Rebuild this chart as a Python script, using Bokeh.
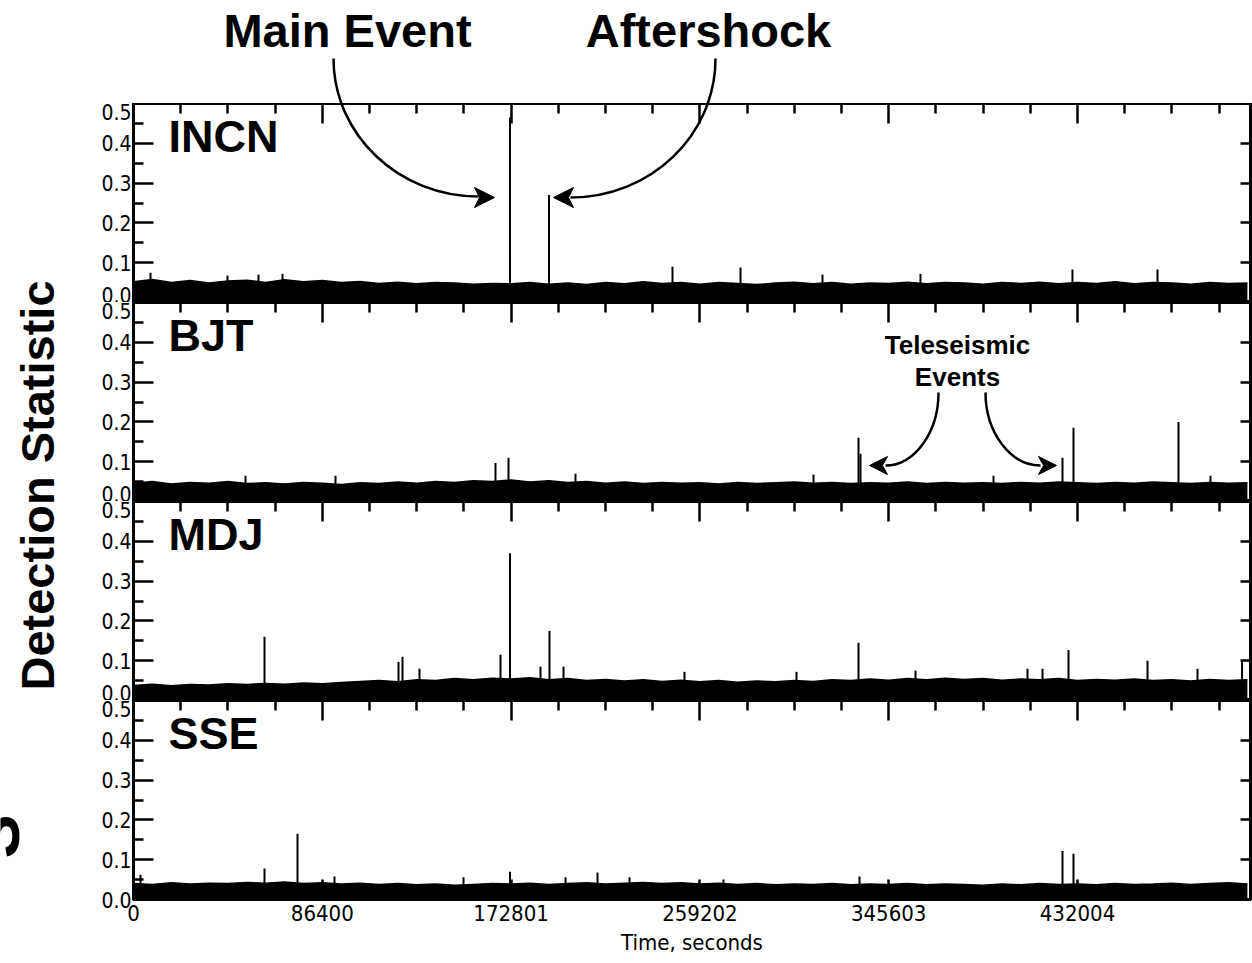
from math import pi
from bokeh.plotting import figure
from bokeh.layouts import row, column
from bokeh.models import Range1d, FixedTicker, PrintfTickFormatter, LinearAxis
from bokeh.core.properties import value
from bokeh.embed import file_html
from bokeh.resources import INLINE

# ---------------- data ----------------
STATIONS = ["INCN", "BJT", "MDJ", "SSE"]
X_END = 511170
XTICKS = [0, 86400, 172801, 259202, 345603, 432004]
XMINOR = [21600, 43200, 64800, 108000, 129600, 151200, 194400, 216000, 237600,
          280800, 302400, 324000, 367200, 388800, 410400, 453600, 475200, 496800]
YTICKS = [0.0, 0.1, 0.2, 0.3, 0.4, 0.5]
YMINOR = [0.05, 0.15, 0.25, 0.35, 0.45]

# background noise envelope, one value every 8640 s
NOISE_T = [8640 * i for i in range(60)]
NOISE_INCN = [0.052, 0.058, 0.050, 0.055, 0.049, 0.054, 0.056, 0.050, 0.057, 0.052,
              0.055, 0.050, 0.053, 0.048, 0.051, 0.047, 0.050, 0.049, 0.046, 0.048,
              0.047, 0.050, 0.046, 0.049, 0.045, 0.050, 0.047, 0.052, 0.048, 0.050,
              0.046, 0.050, 0.048, 0.045, 0.049, 0.051, 0.047, 0.050, 0.046, 0.049,
              0.048, 0.051, 0.047, 0.050, 0.049, 0.046, 0.050, 0.048, 0.051, 0.047,
              0.050, 0.048, 0.052, 0.047, 0.050, 0.049, 0.046, 0.050, 0.048, 0.049]
NOISE_BJT = [0.046, 0.050, 0.044, 0.048, 0.046, 0.050, 0.045, 0.047, 0.044, 0.048,
             0.046, 0.043, 0.047, 0.045, 0.049, 0.046, 0.050, 0.048, 0.052, 0.050,
             0.054, 0.049, 0.052, 0.048, 0.050, 0.046, 0.049, 0.045, 0.048, 0.046,
             0.047, 0.044, 0.048, 0.045, 0.047, 0.049, 0.046, 0.048, 0.045, 0.047,
             0.046, 0.049, 0.045, 0.048, 0.046, 0.047, 0.045, 0.048, 0.046, 0.049,
             0.047, 0.045, 0.048, 0.046, 0.049, 0.047, 0.045, 0.048, 0.046, 0.047]
NOISE_MDJ = [0.038, 0.041, 0.037, 0.040, 0.039, 0.042, 0.040, 0.043, 0.041, 0.044,
             0.042, 0.045, 0.048, 0.050, 0.047, 0.052, 0.050, 0.055, 0.052, 0.056,
             0.054, 0.057, 0.052, 0.055, 0.050, 0.053, 0.049, 0.052, 0.048, 0.051,
             0.047, 0.050, 0.046, 0.049, 0.047, 0.050, 0.048, 0.052, 0.050, 0.054,
             0.051, 0.055, 0.052, 0.056, 0.053, 0.055, 0.051, 0.054, 0.052, 0.055,
             0.050, 0.053, 0.051, 0.054, 0.050, 0.052, 0.049, 0.053, 0.050, 0.052]
NOISE_SSE = [0.040, 0.038, 0.042, 0.039, 0.041, 0.040, 0.043, 0.041, 0.044, 0.040,
             0.042, 0.039, 0.041, 0.038, 0.040, 0.037, 0.039, 0.036, 0.038, 0.040,
             0.039, 0.041, 0.038, 0.040, 0.042, 0.039, 0.041, 0.043, 0.040, 0.042,
             0.039, 0.041, 0.038, 0.040, 0.037, 0.039, 0.038, 0.040, 0.037, 0.039,
             0.038, 0.040, 0.037, 0.039, 0.038, 0.036, 0.039, 0.037, 0.040, 0.038,
             0.039, 0.037, 0.040, 0.038, 0.039, 0.041, 0.038, 0.040, 0.042, 0.039]

# detections (spikes): time in seconds, detection statistic
SPIKE_T_INCN = [7780, 43000, 57200, 68190, 172300, 190150, 246660, 277780, 315300, 360150, 429700, 468600]
SPIKE_V_INCN = [0.075, 0.068, 0.070, 0.072, 0.465, 0.270, 0.090, 0.088, 0.070, 0.072, 0.083, 0.083]
SPIKE_T_BJT = [51250, 92440, 165660, 171610, 202270, 311190, 331780, 332700, 393560, 425140, 430170, 478220, 492870]
SPIKE_V_BJT = [0.065, 0.065, 0.097, 0.110, 0.070, 0.068, 0.160, 0.120, 0.065, 0.110, 0.185, 0.200, 0.065]
SPIKE_T_MDJ = [59950, 121270, 123100, 130880, 167950, 172300, 186250, 190370, 196780, 252150,
               303410, 331780, 357870, 409120, 415990, 427880, 464040, 486920, 507300]
SPIKE_V_MDJ = [0.160, 0.097, 0.110, 0.080, 0.115, 0.370, 0.085, 0.175, 0.085, 0.072,
               0.072, 0.145, 0.075, 0.080, 0.080, 0.127, 0.100, 0.080, 0.100]
SPIKE_T_SSE = [3200, 59950, 75050, 91980, 151020, 172300, 197700, 212340, 226980, 270000, 332240, 425140, 430170]
SPIKE_V_SSE = [0.062, 0.078, 0.165, 0.058, 0.056, 0.070, 0.056, 0.068, 0.056, 0.050, 0.058, 0.122, 0.115]

NOISE = [NOISE_INCN, NOISE_BJT, NOISE_MDJ, NOISE_SSE]
SPIKE_T = [SPIKE_T_INCN, SPIKE_T_BJT, SPIKE_T_MDJ, SPIKE_T_SSE]
SPIKE_V = [SPIKE_V_INCN, SPIKE_V_BJT, SPIKE_V_MDJ, SPIKE_V_SSE]

# ---------------- layout ----------------
LABEL_W = 70
PANEL_W = 1182
PANEL_H = 199
TOP_H = 103
BOT = 63
LEFT = 63
RIGHT = 2
PX_PER_UNIT = PANEL_H * 2  # pixels per detection-statistic unit
NARROW = "DejaVu Sans Condensed, Roboto, sans-serif"
BOLD = "Liberation Sans"

xr = Range1d(0, X_END)


def curve_arrows(p):
    # "Main Event" and "Aftershock" curved arrows (INCN panel data units)
    p.bezier(x0=[91526, 266341], y0=[0.6131, 0.6131], x1=[157882, 199984], y1=[0.2663, 0.2638],
             cx0=[91526, 266341], cy0=[0.4221, 0.4196], cx1=[121272, 236595], cy1=[0.2663, 0.2638],
             line_color="black", line_width=2.5)


top = figure(width=PANEL_W, height=TOP_H, x_range=xr,
             y_range=Range1d(0.5, 0.5 + TOP_H / PX_PER_UNIT),
             output_backend="svg", toolbar_location=None, x_axis_type=None, y_axis_type=None,
             min_border_left=LEFT, min_border_right=RIGHT, min_border_top=0, min_border_bottom=0)
top.outline_line_color = None
top.grid.visible = False
curve_arrows(top)
top.text(x=[97933, 263137], y=[0.683, 0.683], text=["Main Event", "Aftershock"],
         text_font=value(BOLD), text_font_style="bold", text_font_size="47px",
         text_align="center", text_baseline="middle", text_color="black")


def style_axis(ax, major_in, minor_in):
    ax.major_tick_in = major_in
    ax.major_tick_out = 0
    ax.minor_tick_in = minor_in
    ax.minor_tick_out = 0
    ax.axis_line_width = 3
    ax.axis_line_color = "black"
    ax.major_tick_line_width = 2.5
    ax.minor_tick_line_width = 2.5
    ax.major_tick_line_color = "black"
    ax.minor_tick_line_color = "black"


def hide_labels(ax):
    ax.major_label_text_font_size = "1px"
    ax.major_label_text_color = None
    ax.major_label_standoff = 0


panels = []
for i, name in enumerate(STATIONS):
    last = i == len(STATIONS) - 1
    p = figure(width=PANEL_W, height=PANEL_H + (BOT if last else 0), x_range=xr,
               y_range=Range1d(0, 0.5), output_backend="svg", toolbar_location=None,
               x_axis_location="above", y_axis_location="left",
               min_border_left=LEFT, min_border_right=RIGHT, min_border_top=0,
               min_border_bottom=(BOT if last else 0))
    p.grid.visible = False
    p.outline_line_color = "black"
    p.outline_line_width = 3
    p.background_fill_color = "white"

    # top x axis: ticks inward, no labels
    xa = p.xaxis[0]
    xa.ticker = FixedTicker(ticks=XTICKS, minor_ticks=XMINOR)
    style_axis(xa, 20, 10)
    hide_labels(xa)

    # left y axis
    ya = p.yaxis[0]
    ya.ticker = FixedTicker(ticks=YTICKS, minor_ticks=YMINOR)
    ya.formatter = PrintfTickFormatter(format="%.1f")
    style_axis(ya, 20, 10)
    ya.major_label_text_font = NARROW
    ya.major_label_text_font_size = "21px"
    ya.major_label_text_color = "black"
    ya.major_label_standoff = 2

    # right y axis: ticks inward only
    ra = LinearAxis(ticker=FixedTicker(ticks=YTICKS, minor_ticks=[]))
    style_axis(ra, 10, 0)
    hide_labels(ra)
    p.add_layout(ra, "right")

    if last:
        ba = LinearAxis(ticker=FixedTicker(ticks=XTICKS, minor_ticks=XMINOR),
                        formatter=PrintfTickFormatter(format="%d"),
                        axis_label="Time, seconds")
        style_axis(ba, 20, 10)
        ba.major_label_text_font = NARROW
        ba.major_label_text_font_size = "22px"
        ba.major_label_text_color = "black"
        ba.major_label_standoff = 5
        ba.axis_label_text_font = NARROW
        ba.axis_label_text_font_size = "22px"
        ba.axis_label_text_font_style = "normal"
        ba.axis_label_text_color = "black"
        ba.axis_label_standoff = 6
        p.add_layout(ba, "below")

    # noise band
    p.varea(x=NOISE_T, y1=0, y2=NOISE[i], fill_color="black", fill_alpha=1.0)
    p.line(x=NOISE_T, y=NOISE[i], line_color="black", line_width=1.5)
    # detections
    p.segment(x0=SPIKE_T[i], y0=0, x1=SPIKE_T[i], y1=SPIKE_V[i], line_color="black", line_width=2)

    # station name
    p.text(x=[16000], y=[0.418], text=[name], text_font=value(BOLD), text_font_style="bold",
           text_font_size="45px", text_baseline="middle", text_align="left", text_color="black")

    if i == 0:
        curve_arrows(p)
        p.patches(xs=[[165204, 156052, 158340, 156052], [192205, 201357, 199069, 201357]],
                  ys=[[0.2638, 0.2889, 0.2638, 0.2387], [0.2638, 0.2889, 0.2638, 0.2387]],
                  fill_color="black", line_color="black", line_width=1)
    if i == 1:
        p.bezier(x0=[368392, 389901], y0=[0.2739, 0.2739], x1=[344138, 415070], y1=[0.0905, 0.0905],
                 cx0=[368392, 389901], cy0=[0.1734, 0.1734], cx1=[357409, 401342], cy1=[0.0905, 0.0905],
                 line_color="black", line_width=2.5)
        p.patches(xs=[[336816, 345053, 342765, 345053], [422393, 414155, 416443, 414155]],
                  ys=[[0.0905, 0.1131, 0.0905, 0.0678], [0.0905, 0.1131, 0.0905, 0.0678]],
                  fill_color="black", line_color="black", line_width=1)
        p.text(x=[377087, 377087], y=[0.392, 0.3116], text=["Teleseismic", "Events"],
               text_font=value(BOLD), text_font_style="bold", text_font_size="26px",
               text_align="center", text_baseline="middle", text_color="black")
    panels.append(p)

total_h = TOP_H + PANEL_H * 4 + BOT
lab = figure(width=LABEL_W, height=total_h, x_range=Range1d(0, LABEL_W), y_range=Range1d(0, total_h),
             output_backend="svg", toolbar_location=None, x_axis_type=None, y_axis_type=None,
             min_border=0, min_border_left=0, min_border_right=0, min_border_top=0, min_border_bottom=0)
lab.outline_line_color = None
lab.grid.visible = False
lab.text(x=[37], y=[477], text=["Detection Statistic"], angle=pi / 2,
         text_font=value(BOLD), text_font_style="bold", text_font_size="47px",
         text_align="center", text_baseline="middle", text_color="black")
lab.text(x=[-5], y=[126], text=["S"], angle=pi / 2,
         text_font=value(BOLD), text_font_style="bold", text_font_size="66px",
         text_align="center", text_baseline="middle", text_color="black")

layout = row(lab, column(top, *panels, spacing=0), spacing=0)

open("out.html", "w").write(file_html(layout, INLINE))
